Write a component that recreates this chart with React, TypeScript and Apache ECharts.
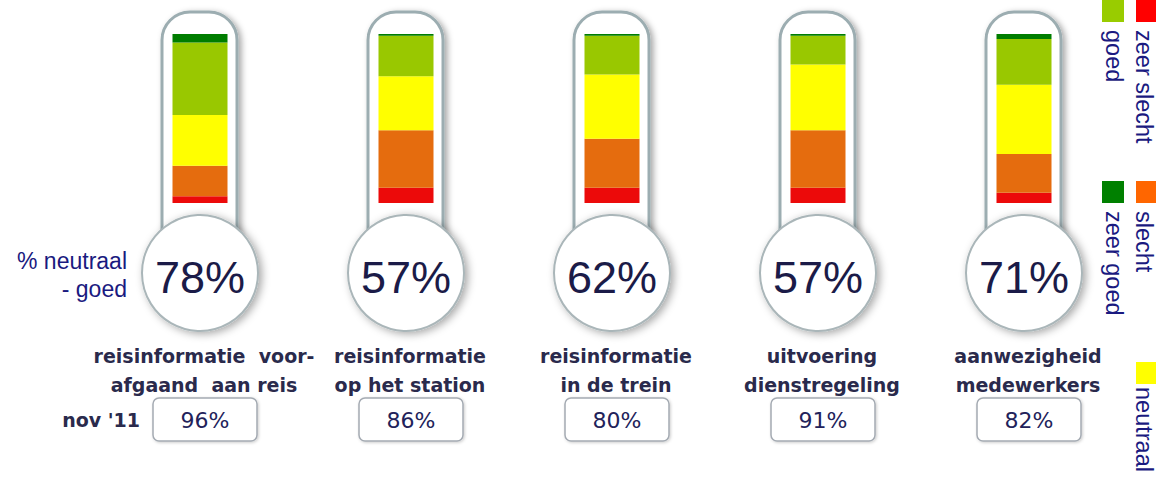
import React, { useEffect, useRef } from "react";
import * as echarts from "echarts";

const categories = [
  "reisinformatie  voor-\nafgaand  aan reis",
  "reisinformatie\nop het station",
  "reisinformatie\nin de trein",
  "uitvoering\ndienstregeling",
  "aanwezigheid\nmedewerkers",
];
const zeerSlecht = [4, 9, 9, 9, 6];
const slecht = [18, 34, 29, 34, 23];
const neutraal = [30, 32, 38, 39, 41];
const goed = [43, 24, 23, 17, 27];
const zeerGoed = [5, 1, 1, 1, 3];
const neutraalGoed = [78, 57, 62, 57, 71];
const nov11 = [96, 86, 80, 91, 82];

const seriesDefs = [
  { name: "zeer slecht", data: zeerSlecht, bar: "#ec0a0a", legend: "#ff0000" },
  { name: "slecht", data: slecht, bar: "#e56c0e", legend: "#ff6600" },
  { name: "neutraal", data: neutraal, bar: "#ffff00", legend: "#ffff00" },
  { name: "goed", data: goed, bar: "#99c800", legend: "#99cc00" },
  { name: "zeer goed", data: zeerGoed, bar: "#007d00", legend: "#008000" },
];

// legend layout: [name, square x, text center x, square top y, text start y]
const legendLayout: [string, number, number, number, number][] = [
  ["goed", 1102, 1114, 0, 30],
  ["zeer goed", 1102, 1114, 181, 211],
  ["zeer slecht", 1136, 1144, 0, 30],
  ["slecht", 1136, 1144, 181, 211],
  ["neutraal", 1136, 1144, 362, 387],
];

const NAVY = "#1a1a80";

export default function App() {
  const ref = useRef<HTMLDivElement>(null);
  useEffect(() => {
    document.body.style.margin = "0";
    const chart = echarts.init(ref.current!, null, { renderer: "svg" });

    const legendGraphics: any[] = [];
    legendLayout.forEach(([name, sx, tx, sy, ty]) => {
      const def = seriesDefs.find((d) => d.name === name)!;
      legendGraphics.push({
        type: "rect",
        shape: { x: sx, y: sy, width: 22, height: 22 },
        style: { fill: def.legend },
      });
      legendGraphics.push({
        type: "text",
        x: tx,
        y: ty,
        rotation: -Math.PI / 2,
        style: {
          text: name,
          fontSize: 23.5,
          lineHeight: 20,
          fontFamily: "Liberation Sans, Arial, sans-serif",
          fill: NAVY,
          align: "left",
          verticalAlign: "middle",
        },
      });
    });

    const option: any = {
      animation: false,
      backgroundColor: "#ffffff",
      grid: { left: 97, right: 29, top: 34, bottom: 280 },
      xAxis: {
        type: "category",
        data: categories,
        axisLine: { show: false },
        axisTick: { show: false },
        splitLine: { show: false },
        axisLabel: {
          interval: 0,
          margin: 138,
          fontFamily: "DejaVu Sans, Verdana, sans-serif",
          fontWeight: "bold",
          fontSize: 19,
          lineHeight: 29,
          color: "#2a2a4c",
          padding: [0, 0, 0, 8],
        },
      },
      yAxis: { type: "value", min: 0, max: 100, show: false },
      graphic: [
        {
          type: "text",
          x: 127,
          y: 275,
          style: {
            text: "% neutraal\n- goed",
            fontSize: 23,
            lineHeight: 28,
            fontFamily: "Liberation Sans, Arial, sans-serif",
            fill: NAVY,
            align: "right",
            verticalAlign: "middle",
          },
        },
        {
          type: "text",
          x: 140,
          y: 420,
          style: {
            text: "nov '11",
            fontSize: 19,
            fontWeight: "bold",
            fontFamily: "DejaVu Sans, Verdana, sans-serif",
            fill: "#2a2a4c",
            align: "right",
            verticalAlign: "middle",
          },
        },
        ...legendGraphics,
      ],
      series: [
        {
          type: "custom",
          z: 1,
          data: neutraalGoed.map((v, i) => [i, v]),
          renderItem: (params: any, api: any) => {
            const i = api.value(0);
            const base = api.coord([i, 0]);
            const top = api.coord([i, 100]);
            const cx = base[0];
            const by = base[1];
            const ty = top[1];
            const cy = by + 70;
            const shadow = {
              shadowBlur: 6,
              shadowColor: "rgba(0,0,0,0.35)",
              shadowOffsetX: 3,
              shadowOffsetY: 2,
            };
            return {
              type: "group",
              children: [
                {
                  type: "rect",
                  shape: { x: cx - 38, y: ty - 22, width: 75, height: cy - (ty - 22), r: [28, 28, 0, 0] },
                  style: { fill: "#ffffff", stroke: "#9cadb1", lineWidth: 3, ...shadow },
                },
                {
                  type: "circle",
                  shape: { cx, cy, r: 58 },
                  style: { fill: "#ffffff", stroke: "#aab6b9", lineWidth: 2, ...shadow, shadowBlur: 8 },
                },
                {
                  type: "text",
                  x: cx,
                  y: cy + 4,
                  style: {
                    text: api.value(1) + "%",
                    fontSize: 45,
                    fontFamily: "Liberation Sans, Arial, sans-serif",
                    fill: "#1b1b48",
                    align: "center",
                    verticalAlign: "middle",
                  },
                },
                {
                  type: "rect",
                  shape: { x: cx + 5 - 52, y: by + 195, width: 104, height: 43, r: 6 },
                  style: {
                    fill: "#ffffff",
                    stroke: "#a4aab2",
                    lineWidth: 1.5,
                    shadowBlur: 3,
                    shadowColor: "rgba(0,0,0,0.2)",
                    shadowOffsetX: 1,
                    shadowOffsetY: 1,
                  },
                },
                {
                  type: "text",
                  x: cx + 5,
                  y: by + 217,
                  style: {
                    text: nov11[params.dataIndex] + "%",
                    fontSize: 22,
                    fontFamily: "DejaVu Sans, Verdana, sans-serif",
                    fill: "#22225a",
                    align: "center",
                    verticalAlign: "middle",
                  },
                },
              ],
            };
          },
        },
        ...seriesDefs.map((d) => ({
          name: d.name,
          type: "bar",
          stack: "total",
          z: 3,
          barWidth: 55,
          data: d.data,
          itemStyle: { color: d.bar },
        })),
      ],
    };
    chart.setOption(option);
    return () => chart.dispose();
  }, []);
  return <div ref={ref} style={{ width: 1156, height: 483 }} />;
}
